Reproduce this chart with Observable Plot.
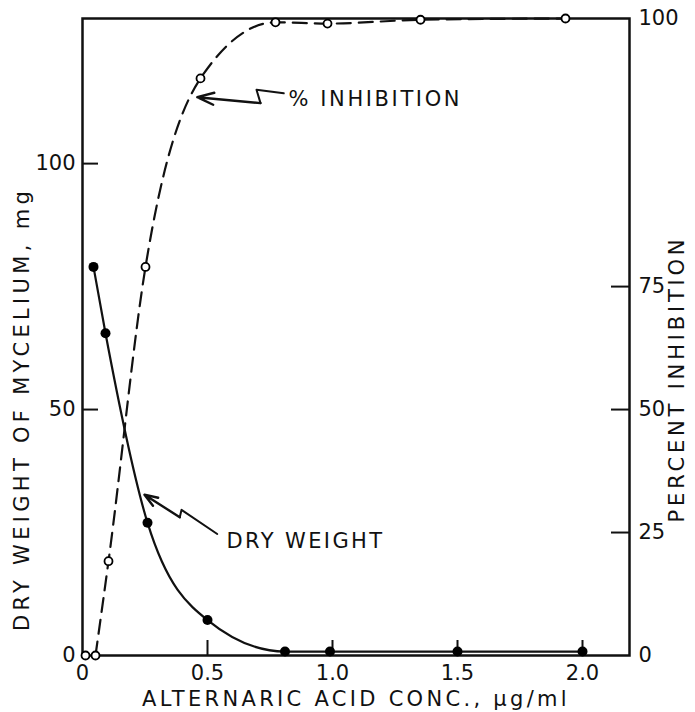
<!DOCTYPE html>
<html><head><meta charset="utf-8">
<script src="https://cdn.jsdelivr.net/npm/d3@7"></script>
<script src="https://cdn.jsdelivr.net/npm/@observablehq/plot@0.6"></script>
<style>
body{margin:0;background:#fff;}
#chart svg{display:block;}
</style>
</head><body><div id="chart"></div>
<script>
// Dry weight of mycelium (mg) vs alternaric acid concentration (µg/ml)
const dryConc   = [0.044, 0.092, 0.26, 0.5, 0.81, 0.99, 1.5, 2.0];
const dryWeight = [79, 65.5, 27, 7.2, 0.8, 0.8, 0.8, 0.8];
// Percent inhibition (100 = top of the frame, as drawn in the original)
const inhConc = [0.012, 0.052, 0.104, 0.252, 0.472, 0.772, 0.98, 1.352, 1.932];
const inhPct  = [0, 0, 14.8, 61, 90.6, 99.4, 99.2, 99.8, 100];
// Ticks
const xTicks = [0, 0.5, 1.0, 1.5, 2.0];
const leftTicks = [0, 50, 100];
const rightTickLabels = [0, 25, 50, 75, 100];
// Texts
const xLabel = "ALTERNARIC ACID CONC., \u03BCg/ml";
const yLabelLeft = "DRY WEIGHT OF MYCELIUM, mg";
const yLabelRight = "PERCENT INHIBITION";
const noteInh = "% INHIBITION";
const noteDry = "DRY WEIGHT";
// Annotation pointer paths (data units)
const inhPointerX = [0.805, 0.696, 0.712];
const inhPointerY = [114.3, 115.0, 112.3];
const inhTip = {x: 0.459, y: 113.5};
const dryPointerX = [0.539, 0.396, 0.389];
const dryPointerY = [24.7, 29.6, 28.1];
const dryTip = {x: 0.248, y: 32.7};
const noteInhPos = {x: 0.824, y: 113};
const noteDryPos = {x: 0.576, y: 23.2};

const yMax = 129.5, xMax = 2.188;
const pxPerX = 250, pxPerY = 4.92;

const dry = dryConc.map((x, i) => ({x, y: dryWeight[i]}));
const inh = inhConc.map((x, i) => ({x, y: inhPct[i] * yMax / 100}));
// right axis tick positions: 0–75 share the left scale, 100 sits on the top edge
const rightTickPos = rightTickLabels.map(v => v === 100 ? yMax : v);
const inhPointer = inhPointerX.map((x, i) => ({x, y: inhPointerY[i]}));
const dryPointer = dryPointerX.map((x, i) => ({x, y: dryPointerY[i]}));

const xTickLen = 15 / pxPerY, rightTickLen = 18 / pxPerX, leftTickLen = 16 / pxPerX;

const chart = Plot.plot({
  width: 695, height: 712,
  marginLeft: 82, marginRight: 66, marginTop: 18, marginBottom: 57,
  x: {domain: [0, xMax]},
  y: {domain: [0, yMax]},
  style: {fontFamily: "DejaVu Sans", fontSize: "21px", color: "#111", background: "white"},
  marks: [
    // tick labels
    Plot.axisX({ticks: xTicks, tickSize: 0, tickPadding: 10, fontSize: 21,
      tickFormat: d => d === 0 ? "0" : d.toFixed(1), label: null}),
    Plot.axisY({ticks: leftTicks, tickSize: 0, tickPadding: 7, fontSize: 21, label: null}),
    Plot.axisY({anchor: "right", ticks: rightTickPos, tickSize: 0, tickPadding: 9, fontSize: 21,
      tickFormat: d => String(rightTickLabels[rightTickPos.indexOf(d)]), label: null}),
    // inward ticks
    Plot.ruleX(xTicks.slice(1), {x: d => d, y1: 0, y2: xTickLen, strokeWidth: 2}),
    Plot.ruleY(leftTicks.slice(1), {y: d => d, x1: 0, x2: leftTickLen, strokeWidth: 2}),
    Plot.ruleY(rightTickPos.slice(1, 4), {y: d => d, x1: xMax - rightTickLen, x2: xMax, strokeWidth: 2}),
    Plot.frame({strokeWidth: 2.5}),
    // curves
    Plot.line(dry, {x: "x", y: "y", curve: "monotone-x", strokeWidth: 2.2}),
    Plot.line(inh.slice(1), {x: "x", y: "y", curve: "monotone-x", strokeWidth: 2.2, strokeDasharray: "14,8"}),
    Plot.dot(dry, {x: "x", y: "y", r: 5, fill: "black"}),
    Plot.dot(inh, {x: "x", y: "y", r: 4, fill: "white", stroke: "black", strokeWidth: 1.8}),
    // annotations
    Plot.line(inhPointer, {x: "x", y: "y", strokeWidth: 2}),
    Plot.arrow([inhTip], {x1: () => inhPointerX[2], y1: () => inhPointerY[2], x2: "x", y2: "y",
      strokeWidth: 2.4, headLength: 11, headAngle: 40}),
    Plot.line(dryPointer, {x: "x", y: "y", strokeWidth: 2}),
    Plot.arrow([dryTip], {x1: () => dryPointerX[2], y1: () => dryPointerY[2], x2: "x", y2: "y",
      strokeWidth: 2.4, headLength: 11, headAngle: 40}),
    Plot.text([noteInh], {x: noteInhPos.x, y: noteInhPos.y, text: d => d, textAnchor: "start", fontSize: 21}),
    Plot.text([noteDry], {x: noteDryPos.x, y: noteDryPos.y, text: d => d, textAnchor: "start", fontSize: 21}),
    // axis titles
    Plot.text([xLabel], {frameAnchor: "bottom", dy: 44, lineAnchor: "middle", textAnchor: "middle", text: d => d, fontSize: 21}),
    Plot.text([yLabelLeft], {frameAnchor: "left", dx: -60, dy: 72, rotate: -90, textAnchor: "middle", lineAnchor: "middle", text: d => d, fontSize: 21}),
    Plot.text([yLabelRight], {frameAnchor: "right", dx: 48, dy: 42, rotate: -90, textAnchor: "middle", lineAnchor: "middle", text: d => d, fontSize: 21})
  ]
});
document.getElementById("chart").appendChild(chart);
// letter spacing of the lettering-guide style text
const spacing = new Map([[xLabel, 3.3], [yLabelLeft, 4.3], [yLabelRight, 3.8], [noteInh, 2.6], [noteDry, 2.4]]);
d3.select(chart).selectAll("text").each(function() {
  const t = this.textContent;
  if (spacing.has(t)) this.setAttribute("letter-spacing", spacing.get(t));
});
</script>
</body></html>
